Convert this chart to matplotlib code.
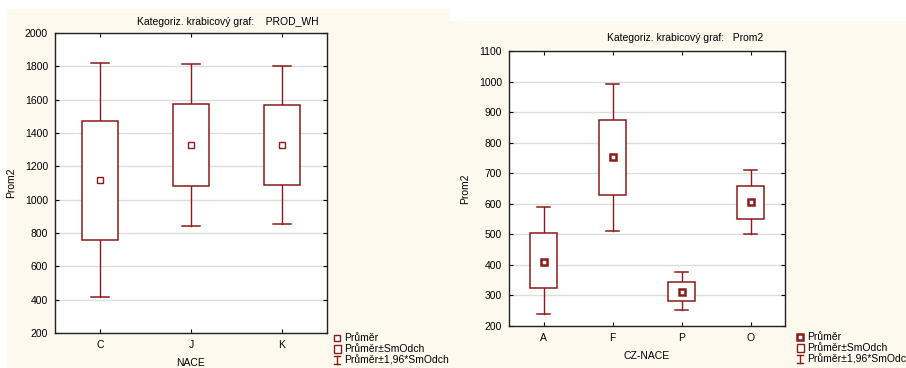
import matplotlib
matplotlib.use("Agg")
import matplotlib.pyplot as plt
from matplotlib.patches import Rectangle
from matplotlib.lines import Line2D

plt.rcParams['font.family'] = ['Liberation Sans', 'DejaVu Sans']

# Left chart data
cats1 = ["C", "J", "K"]
mean1 = [1117, 1328, 1328]
sd_lo1 = [760, 1080, 1090]
sd_hi1 = [1475, 1575, 1570]
ci_lo1 = [415, 843, 857]
ci_hi1 = [1818, 1813, 1802]
yticks1 = [200, 400, 600, 800, 1000, 1200, 1400, 1600, 1800, 2000]

# Right chart data
cats2 = ["A", "F", "P", "O"]
mean2 = [410, 752, 312, 607]
sd_lo2 = [325, 628, 282, 551]
sd_hi2 = [503, 873, 345, 659]
ci_lo2 = [240, 511, 252, 500]
ci_hi2 = [588, 991, 376, 711]
yticks2 = [200, 300, 400, 500, 600, 700, 800, 900, 1000, 1100]

legend_labels = ["Průměr", "Průměr±SmOdch", "Průměr±1,96*SmOdch"]

W, H = 906, 368
fig = plt.figure(figsize=(W / 100, H / 100), dpi=100)
fig.patch.set_facecolor("white")

RED = "#8b1a1a"
BG = "#fdf9ee"

def px(x0, y0, x1, y1):
    return [x0 / W, 1 - y1 / H, (x1 - x0) / W, (y1 - y0) / H]

def fx(x):
    return x / W

def fy(y):
    return 1 - y / H

# panel backgrounds
for (x0, y0, x1, y1) in [(7, 9, 450, 368), (450, 21, 906, 368)]:
    fig.patches.append(Rectangle((x0 / W, 1 - y1 / H), (x1 - x0) / W, (y1 - y0) / H,
                                 transform=fig.transFigure, facecolor=BG,
                                 edgecolor="none", zorder=-10))

def legend(lx, ly, filled):
    # lx: x of symbol centre, ly: y of first row (pixels)
    step = 11
    fig.lines.append(Line2D([fx(lx)], [fy(ly)], marker="s", ms=4, mfc="white", mec=RED,
                            mew=1.0 if not filled else 1.8, ls="none",
                            transform=fig.transFigure))
    fig.patches.append(Rectangle((fx(lx - 3.5), fy(ly + step + 4)), 7 / W, 8 / H,
                                 transform=fig.transFigure, facecolor="white",
                                 edgecolor=RED, lw=1.0))
    yy = ly + 2 * step
    for seg in ([(lx, yy - 4), (lx, yy + 4)], [(lx - 3, yy - 4), (lx + 3, yy - 4)],
                [(lx - 3, yy + 4), (lx + 3, yy + 4)]):
        fig.lines.append(Line2D([fx(seg[0][0]), fx(seg[1][0])],
                                [fy(seg[0][1]), fy(seg[1][1])], color=RED, lw=1.0,
                                transform=fig.transFigure))
    for i, lab in enumerate(legend_labels):
        fig.text(fx(lx + 7), fy(ly + i * step), lab, fontsize=7.5, ha="left",
                 va="center")

def draw(rect, cats, mean, lo, hi, clo, chi, yticks, xlabel, title, title_xy, leg_xy, filled):
    ax = fig.add_axes(px(*rect))
    ax.set_facecolor("white")
    n = len(cats)
    xs = list(range(1, n + 1))
    bw = 0.4
    cw = 0.2
    for x, m, l, h, a, b in zip(xs, mean, lo, hi, clo, chi):
        ax.add_patch(Rectangle((x - bw / 2, l), bw, h - l, facecolor="white",
                               edgecolor=RED, lw=1.1, zorder=3))
        ax.plot([x, x], [h, b], color=RED, lw=1.0, zorder=2)
        ax.plot([x, x], [a, l], color=RED, lw=1.0, zorder=2)
        ax.plot([x - cw / 2, x + cw / 2], [b, b], color=RED, lw=1.1, zorder=2)
        ax.plot([x - cw / 2, x + cw / 2], [a, a], color=RED, lw=1.1, zorder=2)
        ax.plot([x], [m], marker="s", ms=4.5,
                mfc="white", mec=RED, mew=1.0 if not filled else 1.8, zorder=4)
    ax.set_xlim(0.5, n + 0.5)
    ax.set_ylim(yticks[0], yticks[-1])
    ax.set_xticks(xs)
    ax.set_xticklabels(cats, fontsize=7.5)
    ax.set_yticks(yticks)
    ax.set_yticklabels([str(t) for t in yticks], fontsize=7.5)
    ax.tick_params(direction="in", length=3, top=True, right=True, width=0.8, pad=5)
    ax.grid(axis="y", color="#dcdcdc", lw=1.0, zorder=0)
    ax.set_axisbelow(True)
    for s in ax.spines.values():
        s.set_linewidth(1.0)
        s.set_color("#222222")
    ax.set_xlabel(xlabel, fontsize=7.5, labelpad=6)
    ax.set_ylabel("Prom2", fontsize=7.5, labelpad=6)
    fig.text(title_xy[0] / W, 1 - title_xy[1] / H, title, fontsize=7.5,
             ha="center", va="center")
    legend(leg_xy[0], leg_xy[1], filled)
    return ax

draw((55, 33, 327, 333), cats1, mean1, sd_lo1, sd_hi1, ci_lo1, ci_hi1, yticks1,
     "NACE", "Kategoriz. krabicový graf:    PROD_WH", (228, 22), (337, 338), False)
draw((509, 51, 785, 326), cats2, mean2, sd_lo2, sd_hi2, ci_lo2, ci_hi2, yticks2,
     "CZ-NACE", "Kategoriz. krabicový graf:   Prom2", (685, 38), (800, 337), True)

fig.savefig("out.png", dpi=100, facecolor=fig.get_facecolor())
